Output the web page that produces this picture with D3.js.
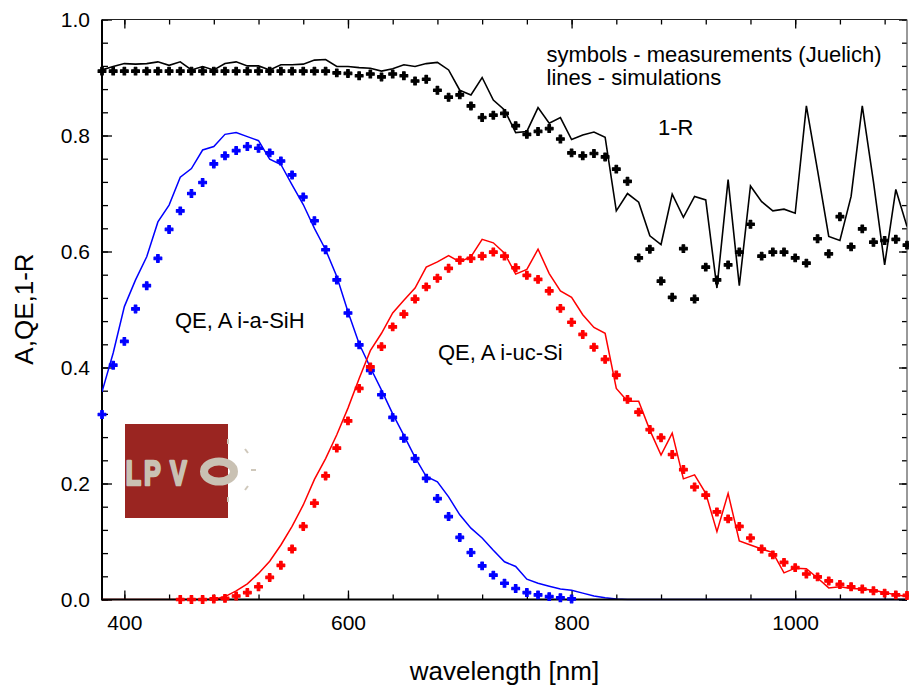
<!DOCTYPE html>
<html>
<head>
<meta charset="utf-8">
<script src="https://cdn.jsdelivr.net/npm/d3@7"></script>
<style>
  html, body { margin: 0; padding: 0; background: #ffffff; }
  svg { display: block; }
  text { font-family: "Liberation Sans", Arial, sans-serif; fill: #000; }
</style>
</head>
<body>
<div id="chart"></div>
<script>
// ---------------- DATA ----------------
const wavelengths = [380,390,400,410,420,430,440,450,460,470,480,490,500,510,520,530,540,550,560,570,
  580,590,600,610,620,630,640,650,660,670,680,690,700,710,720,730,740,750,760,770,
  780,790,800,810,820,830,840,850,860,870,880,890,900,910,920,930,940,950,960,970,
  980,990,1000,1010,1020,1030,1040,1050,1060,1070,1080,1090,1100];

// 1-R measured (symbols, black)
const measOneMinusR = [0.911,0.911,0.911,0.911,0.911,0.911,0.911,0.911,0.911,0.911,0.911,0.911,0.911,0.911,0.911,0.911,0.911,0.911,0.911,0.911,
  0.911,0.908,0.907,0.903,0.906,0.901,0.906,0.903,0.894,0.897,0.878,0.866,0.870,0.851,0.831,0.835,0.838,0.817,0.802,0.807,
  0.812,0.794,0.770,0.765,0.769,0.763,0.742,0.721,0.589,0.604,0.549,0.521,0.605,0.518,0.573,0.551,0.577,0.599,0.647,0.592,
  0.599,0.599,0.589,0.580,0.622,0.596,0.660,0.608,0.639,0.616,0.619,0.621,0.611];

// 1-R simulated (line, black)
const simOneMinusR = [0.913,0.919,0.924,0.923,0.924,0.927,0.921,0.927,0.913,0.919,0.913,0.924,0.927,0.920,0.920,0.913,0.922,0.922,0.923,0.930,
  0.931,0.919,0.919,0.917,0.916,0.911,0.915,0.922,0.919,0.924,0.926,0.913,0.878,0.870,0.900,0.861,0.844,0.805,0.807,0.848,
  0.821,0.831,0.793,0.801,0.806,0.797,0.670,0.700,0.685,0.627,0.612,0.699,0.659,0.695,0.689,0.537,0.724,0.541,0.713,0.686,
  0.670,0.673,0.666,0.851,0.740,0.626,0.619,0.695,0.851,0.720,0.577,0.707,0.643];

// QE i-a-Si:H measured (blue symbols), 380..800 nm
const aSiWavelengths = [380,390,400,410,420,430,440,450,460,470,480,490,500,510,520,530,540,550,560,570,
  580,590,600,610,620,630,640,650,660,670,680,690,700,710,720,730,740,750,760,770,780,790,800];
const measASi = [0.319,0.404,0.445,0.501,0.541,0.588,0.638,0.670,0.700,0.719,0.751,0.765,0.774,0.781,0.778,0.770,0.756,0.732,0.694,0.653,
  0.603,0.551,0.494,0.439,0.395,0.353,0.314,0.278,0.243,0.209,0.174,0.143,0.107,0.081,0.058,0.042,0.028,0.019,0.012,0.008,0.005,0.003,0.001];

// A i-a-Si:H simulated (blue line), 380..1100 nm
const simASi = [0.358,0.425,0.505,0.551,0.591,0.651,0.680,0.728,0.743,0.775,0.781,0.802,0.805,0.798,0.791,0.759,0.750,0.715,0.681,0.640,
  0.603,0.557,0.496,0.441,0.400,0.361,0.320,0.283,0.245,0.212,0.203,0.177,0.146,0.123,0.106,0.085,0.065,0.057,0.035,0.028,
  0.023,0.018,0.016,0.011,0.006,0.003,0.001,0,0,0,0,0,0,0,0,0,0,0,0,0,
  0,0,0,0,0,0,0,0,0,0,0,0,0];

// QE i-uc-Si measured (red symbols), 450..1100 nm
const ucSiWavelengths = [450,460,470,480,490,500,510,520,530,540,550,560,570,580,590,600,610,620,630,640,
  650,660,670,680,690,700,710,720,730,740,750,760,770,780,790,800,810,820,830,840,
  850,860,870,880,890,900,910,920,930,940,950,960,970,980,990,1000,1010,1020,1030,1040,
  1050,1060,1070,1080,1090,1100];
const measUcSi = [0.000,0.000,0.000,0.001,0.002,0.006,0.012,0.022,0.038,0.059,0.087,0.126,0.166,0.213,0.261,0.308,0.364,0.401,0.436,0.470,
  0.492,0.518,0.539,0.554,0.571,0.585,0.588,0.592,0.599,0.592,0.572,0.559,0.552,0.532,0.502,0.478,0.457,0.435,0.414,0.387,
  0.345,0.323,0.293,0.279,0.250,0.224,0.194,0.180,0.151,0.139,0.126,0.106,0.087,0.077,0.064,0.055,0.044,0.039,0.032,0.026,
  0.022,0.018,0.015,0.011,0.008,0.007];

// A i-uc-Si simulated (red line), 380..1100 nm
const simUcSi = [0,0,0,0,0,0,0,0,0,0,0,0.005,0.015,0.027,0.045,0.066,0.094,0.126,0.163,0.207,
  0.243,0.284,0.330,0.381,0.429,0.459,0.494,0.516,0.537,0.573,0.582,0.593,0.582,0.591,0.621,0.615,0.597,0.561,0.569,0.604,
  0.562,0.532,0.521,0.491,0.469,0.459,0.364,0.342,0.342,0.292,0.249,0.287,0.208,0.215,0.183,0.117,0.183,0.101,0.094,0.087,
  0.081,0.046,0.054,0.053,0.037,0.020,0.022,0.019,0.018,0.016,0.012,0.008,0.005];

const xMajorTicks = [400, 600, 800, 1000];
const xMinorTicks = [400,440,480,520,560,600,640,680,720,760,800,840,880,920,960,1000,1040,1080];
const yMajorTicks = [0.0, 0.2, 0.4, 0.6, 0.8, 1.0];
const yMinorTicks = [0,0.04,0.08,0.12,0.16,0.2,0.24,0.28,0.32,0.36,0.4,0.44,0.48,0.52,0.56,0.6,0.64,0.68,0.72,0.76,0.8,0.84,0.88,0.92,0.96,1.0];

const xTitle = "wavelength [nm]";
const yTitle = "A,QE,1-R";
const notes = ["symbols - measurements (Juelich)", "lines - simulations"];

// ---------------- CHART ----------------
const W = 909, H = 688;
const L = 102, R = 907, T = 19.5, B = 599.5;

const svg = d3.select("#chart").append("svg")
  .attr("width", W).attr("height", H);

const x = d3.scaleLinear().domain([380, 1100]).range([L, R]);
const y = d3.scaleLinear().domain([0, 1]).range([B, T]);

svg.append("defs").append("clipPath").attr("id", "plotclip")
  .append("rect").attr("x", L).attr("y", T - 2).attr("width", R - L).attr("height", B - T + 3);

// ---- logo (LPVO) ----
const logo = svg.append("g").attr("class", "logo");
logo.append("rect").attr("x", 125).attr("y", 424).attr("width", 103).attr("height", 94).attr("fill", "#9a2521");
const beige = "#c9c1b3";
const sx = 0.7;
const lt = logo.append("text").attr("transform", `translate(125,485) scale(${sx},1)`)
  .style("font-size", "36px").style("font-weight", "bold").style("fill", beige)
  .style("stroke", beige).style("stroke-width", 2.6).style("stroke-linejoin", "round");
lt.append("tspan").attr("x", 1).text("L");
lt.append("tspan").attr("x", (144 - 125) / sx).text("P");
lt.append("tspan").attr("x", (170 - 125) / sx).text("V");
logo.append("ellipse").attr("cx", 219).attr("cy", 471.5).attr("rx", 15).attr("ry", 10)
  .attr("fill", "none").attr("stroke", beige).attr("stroke-width", 8);
[[228,439,228,444],[245,449,248,453],[251,470,256,470],[245,490,248,486],[228,497,228,502]].forEach(s => {
  logo.append("line").attr("x1", s[0]).attr("y1", s[1]).attr("x2", s[2]).attr("y2", s[3])
    .attr("stroke", "#cfc8bb").attr("stroke-width", 2);
});

// ---- axes ----
function addAxis(gen, transform, ticks, size, labels) {
  const g = svg.append("g").attr("transform", transform)
    .call(gen.tickValues(ticks).tickSizeInner(size).tickSizeOuter(0)
      .tickFormat(labels ? d3.format(labels) : () => ""));
  g.select(".domain").remove();
  g.selectAll(".tick line").attr("stroke", "#000").attr("stroke-width", 1.3);
  return g;
}
// bottom
addAxis(d3.axisBottom(x), `translate(0,${B})`, xMinorTicks, -5, null);
const bx = addAxis(d3.axisBottom(x).tickPadding(16), `translate(0,${B})`, xMajorTicks, -9, "d");
bx.selectAll("text").style("font-size", "21px").attr("fill", "#000");
// top
addAxis(d3.axisTop(x), `translate(0,${T})`, xMinorTicks, -5, null);
addAxis(d3.axisTop(x), `translate(0,${T})`, xMajorTicks, -9, null);
// left
addAxis(d3.axisLeft(y), `translate(${L},0)`, yMinorTicks, -6, null);
const ly = addAxis(d3.axisLeft(y).tickPadding(12), `translate(${L},0)`, yMajorTicks, -10, ".1f");
ly.selectAll("text").style("font-size", "21px").attr("fill", "#000");
// right
addAxis(d3.axisRight(y), `translate(${R},0)`, yMinorTicks, -5, null);
addAxis(d3.axisRight(y), `translate(${R},0)`, yMajorTicks, -8, null);

// frame
svg.append("line").attr("x1", L).attr("x2", R).attr("y1", T).attr("y2", T).attr("stroke", "#222").attr("stroke-width", 1.2);
svg.append("line").attr("x1", R).attr("x2", R).attr("y1", T).attr("y2", B).attr("stroke", "#555").attr("stroke-width", 1.2);
svg.append("line").attr("x1", L).attr("x2", L).attr("y1", T).attr("y2", B + 1).attr("stroke", "#000").attr("stroke-width", 2);

// ---- lines ----
const lineGen = d3.line().x(d => x(d[0])).y(d => y(d[1]));
const plot = svg.append("g").attr("clip-path", "url(#plotclip)");

function drawLine(xs, ys, color, w) {
  plot.append("path").datum(xs.map((v, i) => [v, ys[i]]))
    .attr("fill", "none").attr("stroke", color).attr("stroke-width", w)
    .attr("stroke-linejoin", "miter").attr("d", lineGen);
}
drawLine(wavelengths, simOneMinusR, "#000000", 1.6);
drawLine(wavelengths, simASi, "#0000ff", 1.5);
drawLine(wavelengths, simUcSi, "#ff0000", 1.5);

// bottom axis line on top of zero lines
svg.append("line").attr("x1", L).attr("x2", R).attr("y1", B).attr("y2", B).attr("stroke", "#000").attr("stroke-width", 2);

// ---- symbols ----
const sym = d3.symbol().type(d3.symbolCross).size(34);
function drawSymbols(xs, ys, color) {
  svg.append("g").selectAll("path").data(xs.map((v, i) => [v, ys[i]])).join("path")
    .attr("transform", d => `translate(${x(d[0])},${y(d[1])})`)
    .attr("d", sym).attr("fill", color)
    .attr("stroke", color).attr("stroke-width", 1.1).attr("stroke-linejoin", "round");
}
drawSymbols(wavelengths, measOneMinusR, "#000000");
drawSymbols(aSiWavelengths, measASi, "#0000ff");
drawSymbols(ucSiWavelengths, measUcSi, "#ff0000");

// ---- texts ----
svg.append("text").attr("x", 546.5).attr("y", 61.5).style("font-size", "22px").text(notes[0]);
svg.append("text").attr("x", 546.5).attr("y", 85).style("font-size", "22px").text(notes[1]);
svg.append("text").attr("x", 658).attr("y", 135).style("font-size", "22px").text("1-R");
svg.append("text").attr("x", 175).attr("y", 328).style("font-size", "22px").text("QE, A i-a-SiH");
svg.append("text").attr("x", 438).attr("y", 360).style("font-size", "22px").text("QE, A i-uc-Si");

svg.append("text").attr("x", (L + R) / 2).attr("y", 680).attr("text-anchor", "middle")
  .style("font-size", "26px").text(xTitle);
svg.append("text").attr("transform", `translate(33,309) rotate(-90)`).attr("text-anchor", "middle")
  .style("font-size", "26px").text(yTitle);
</script>
</body>
</html>
